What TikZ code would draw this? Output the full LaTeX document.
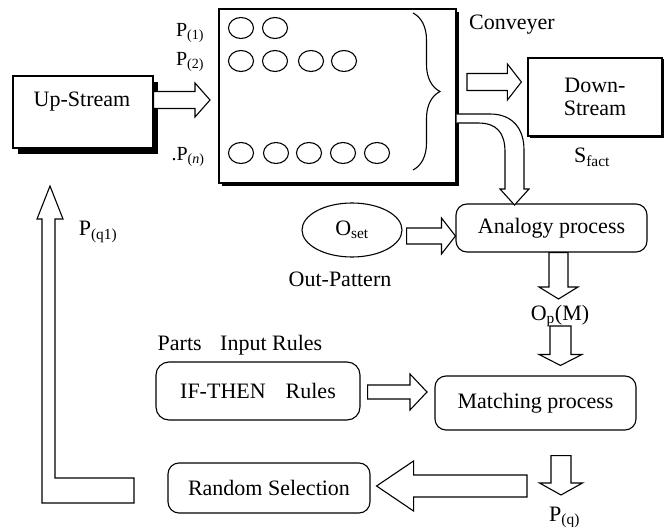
\documentclass[tikz,border=0pt]{standalone}
\usepackage{fontspec}
\setmainfont{Liberation Serif}
\usetikzlibrary{calc,shapes.geometric,shadows,decorations.pathreplacing}
\newcommand\sbs[1]{\textsubscript{#1}}
\newcommand\arrR[5]{\draw[barrow] let \p1=(#1),\p2=(#2) in (\x1,\y2+#3) -- (\x2-#5,\y2+#3) -- (\x2-#5,\y2+#4) -- (\x2,\y2) -- (\x2-#5,\y2-#4) -- (\x2-#5,\y2-#3) -- (\x1,\y2-#3) -- cycle;}
\newcommand\arrL[5]{\draw[barrow] let \p1=(#1),\p2=(#2) in (\x1,\y2+#3) -- (\x2+#5,\y2+#3) -- (\x2+#5,\y2+#4) -- (\x2,\y2) -- (\x2+#5,\y2-#4) -- (\x2+#5,\y2-#3) -- (\x1,\y2-#3) -- cycle;}
\newcommand\arrD[5]{\draw[barrow] let \p1=(#1),\p2=(#2) in (\x2-#3,\y1) -- (\x2-#3,\y2+#5) -- (\x2-#4,\y2+#5) -- (\x2,\y2) -- (\x2+#4,\y2+#5) -- (\x2+#3,\y2+#5) -- (\x2+#3,\y1) -- cycle;}
\tikzset{
  barrow/.style={draw, line width=1.1pt, fill=white, line join=miter},
  txt/.style={font=\fontsize{22}{25}\selectfont, inner sep=0pt},
  lbl/.style={font=\fontsize{20}{23}\selectfont, inner sep=0pt},
  sqbox/.style={draw, line width=1.2pt, fill=white, inner sep=0pt},
  rbox/.style={draw, line width=1.1pt, rounded corners=11pt, fill=white, inner sep=0pt, font=\fontsize{22}{25}\selectfont},
  part/.style={draw, ellipse, line width=1.1pt, minimum width=25pt, minimum height=21pt, inner sep=0pt}
}
\begin{document}
\begin{tikzpicture}[x=1pt,y=-1pt]
\useasboundingbox (0,0) rectangle (667,527);
\clip (0,0) rectangle (667,527);
\fill[white] (0,0) rectangle (667,527);

% Up-Stream
\node[sqbox, minimum width=140pt, minimum height=72pt,
  drop shadow={shadow xshift=5pt, shadow yshift=-6pt, fill=black, opacity=1}] (upstream) at (83,112) {};
\node[txt] (uptxt) at (82,102) {Up-Stream};

% Conveyor
\node[sqbox, minimum width=237pt, minimum height=174pt,
  drop shadow={shadow xshift=3pt, shadow yshift=-3pt, fill=black, opacity=1}] (conveyor) at (337.5,96) {};
\foreach \x/\n in {241/a1,275/a2}{\node[part] (r1\n) at (\x,28) {};}
\foreach \x/\n in {241/b1,275/b2,311/b3,344/b4}{\node[part] (r2\n) at (\x,61) {};}
\foreach \x/\n in {241/c1,276/c2,309/c3,343/c4,377/c5}{\node[part] (rn\n) at (\x,153) {};}
\node[lbl] (p1) at (190,33) {P\sbs{(1)}};
\node[lbl] (p2) at (190,62) {P\sbs{(2)}};
\node[lbl] (pn) at (188,157) {.P\sbs{(\textit{n})}};
\coordinate (brtop) at (413,13);
\coordinate (brbot) at (413,170);
\draw[line width=1.1pt, decorate, decoration={brace, amplitude=27pt}] (brtop) -- (brbot);
\node[txt] (conv) at (512,25) {Conveyer};

% Down-Stream
\node[sqbox, minimum width=134pt, minimum height=78pt, align=center,
  font=\fontsize{22}{23}\selectfont,
  drop shadow={shadow xshift=1.5pt, shadow yshift=-1.5pt, fill=black, opacity=1}] (downstream) at (595,97) {Down-\\Stream};
\node[txt] (sfact) at (592,157) {S\sbs{fact}};

% Analogy
\node[rbox, minimum width=191pt, minimum height=48pt] (analogy) at (551.5,228) {Analogy process};
\node[draw, ellipse, line width=1.1pt, minimum width=100pt, minimum height=54pt, inner sep=0pt, font=\fontsize{22}{25}\selectfont] (oset) at (352,230) {O\sbs{set}};
\node[txt] (outpat) at (340,279) {Out-Pattern};
\node[txt] (opm) at (560,316) {O\sbs{p}(M)};

% Matching & rules
\node[rbox, minimum width=201pt, minimum height=54pt] (matching) at (535.5,403) {Matching process};
\node[rbox, minimum width=204pt, minimum height=58pt, rounded corners=13pt] (ifthen) at (258,391) {IF-THEN\hspace{20pt}Rules};
\node[txt] (parts) at (240,345) {Parts\hspace{13pt} Input Rules};
\node[rbox, minimum width=202pt, minimum height=50pt] (random) at (269,488) {Random Selection};
\node[txt, anchor=base west] (pq) at (549,521) {P\sbs{(q)}};
\node[txt] (pq1) at (98,232) {P\sbs{(q1)}};

% block arrows
\coordinate (a1t) at ($(upstream.east)+(0,-12)$);
\coordinate (a1h) at (210,100);
\arrR{a1t}{a1h}{8.5pt}{17pt}{15pt}

\coordinate (a2t) at (467,82);
\coordinate (a2h) at ($(downstream.west)+(-6,-15)$);
\arrR{a2t}{a2h}{8.5pt}{18pt}{14pt}

\coordinate (a3t) at ($(oset.east)+(4,6)$);
\coordinate (a3h) at ($(analogy.west)+(0,8)$);
\arrR{a3t}{a3h}{8pt}{18pt}{14pt}

\coordinate (a4t) at ($(analogy.south)+(7,0)$);
\coordinate (a4h) at (558.5,299);
\arrD{a4t}{a4h}{9.5pt}{19.5pt}{12pt}

\coordinate (a5t) at (560.5,326);
\coordinate (a5h) at ($(matching.north)+(25,-10)$);
\arrD{a5t}{a5h}{10.5pt}{21.5pt}{11pt}

\coordinate (a6t) at ($(ifthen.east)+(7,1)$);
\coordinate (a6h) at (427,392);
\arrR{a6t}{a6h}{7pt}{18pt}{17pt}

\coordinate (a7t) at ($(matching.south)+(25.5,25)$);
\coordinate (a7h) at (561,495);
\arrD{a7t}{a7h}{10pt}{21.5pt}{12pt}

\coordinate (a8t) at (527,486);
\coordinate (a8h) at ($(random.east)+(6,-2)$);
\arrL{a8t}{a8h}{11pt}{25pt}{37pt}

% curved arrow conveyor -> analogy
\coordinate (c1) at ($(conveyor.east)+(0,18)$);
\coordinate (c2) at ($(conveyor.east)+(0,27)$);
\coordinate (ctip) at (514.5,205);
\draw[barrow] (c1) -- (490,114) .. controls (512,114) and (524,128) .. (524,150) -- (524,189) -- (529,189) -- (ctip) -- (500,189) -- (505,189) -- (505,152) .. controls (505,133) and (497,123) .. (478,123) -- (c2);

% L-shaped return arrow
\coordinate (ltail) at (134,478);
\coordinate (ltip) at (50,186);
\draw[barrow] (ltail) -- (55,478) -- (55,219) -- (63,219) -- (ltip) -- (37,219) -- (42,219) -- (42,503) -- (134,503) -- cycle;
\end{tikzpicture}
\end{document}
